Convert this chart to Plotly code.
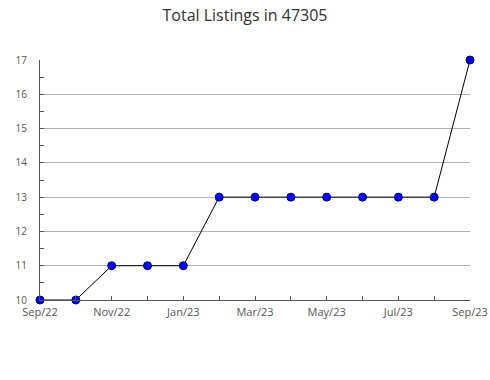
import plotly.graph_objects as go

months = ["Sep/22", "Oct/22", "Nov/22", "Dec/22", "Jan/23", "Feb/23", "Mar/23",
          "Apr/23", "May/23", "Jun/23", "Jul/23", "Aug/23", "Sep/23"]
listings = [10, 10, 11, 11, 11, 13, 13, 13, 13, 13, 13, 13, 17]

x_idx = list(range(len(months)))
tick_text = [m if i % 2 == 0 else "" for i, m in enumerate(months)]

fig = go.Figure()
fig.add_trace(go.Scatter(
    x=x_idx, y=listings, mode="lines+markers",
    line=dict(color="black", width=1),
    marker=dict(symbol="circle", size=8, color="#0000ff",
                line=dict(color="#000066", width=1)),
    cliponaxis=False, hoverinfo="y",
))

fig.update_layout(
    width=490, height=380,
    margin=dict(l=40, r=20, t=60, b=80, autoexpand=False),
    paper_bgcolor="white", plot_bgcolor="white",
    font=dict(family="Open Sans, sans-serif", color="#555", size=11),
    title=dict(text="Total Listings in 47305", x=0.5, xanchor="center",
               y=1 - 15/380, yanchor="middle",
               font=dict(size=16, color="#333")),
    showlegend=False,
)
fig.update_xaxes(
    range=[0, 12], tickmode="array", tickvals=x_idx, ticktext=tick_text,
    ticks="inside", ticklen=4, tickcolor="#555", showgrid=False,
    showline=True, linecolor="#555", linewidth=1, zeroline=False,
    tickfont=dict(size=11, color="#555"), automargin=False,
    ticklabelstandoff=2,
)
fig.update_yaxes(
    range=[10, 17], dtick=1, ticks="inside", ticklen=4, tickcolor="#555",
    showgrid=True, gridcolor="#b0b0b0", gridwidth=1,
    showline=True, linecolor="#555", linewidth=1, zeroline=False,
    minor=dict(dtick=0.5, ticks="inside", ticklen=4, tickcolor="#555", showgrid=False),
    tickfont=dict(size=10, color="#555"), automargin=False,
    ticklabelstandoff=10,
)
fig.write_html("out.html")
